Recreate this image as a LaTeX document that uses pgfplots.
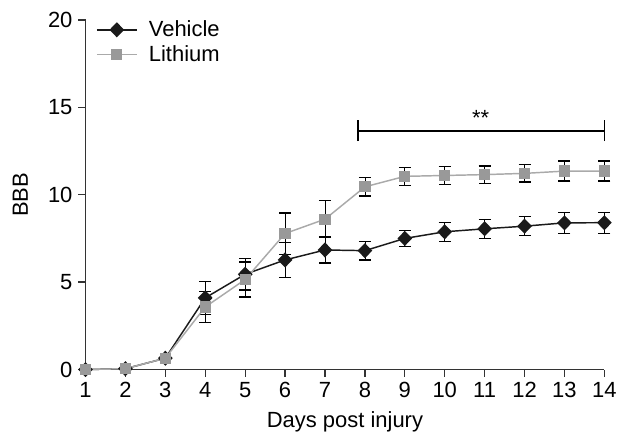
\documentclass[border=0pt]{standalone}
\usepackage{fontspec}
\setmainfont{Liberation Sans}
\usepackage{pgfplots}
\usepackage{pgfplotstable}
\pgfplotsset{compat=1.18}

\definecolor{vehcol}{HTML}{1A1A1A}
\definecolor{lithline}{HTML}{AAAAAA}
\definecolor{lithmark}{HTML}{999999}
\definecolor{axcol}{HTML}{333333}

% day, mean BBB score, SEM
\pgfplotstableread{
day mean err
1  0.00 0.00
2  0.05 0.00
3  0.65 0.00
4  4.10 0.95
5  5.45 0.90
6  6.27 1.00
7  6.84 0.75
8  6.80 0.53
9  7.50 0.45
10 7.88 0.54
11 8.05 0.55
12 8.20 0.55
13 8.39 0.60
14 8.40 0.60
}\vehicle

\pgfplotstableread{
day mean err
1  0.00 0.00
2  0.05 0.00
3  0.65 0.00
4  3.58 0.87
5  5.15 1.00
6  7.78 1.18
7  8.60 1.05
8  10.45 0.52
9  11.05 0.52
10 11.10 0.50
11 11.15 0.50
12 11.22 0.50
13 11.35 0.57
14 11.35 0.57
}\lithium

\pgfplotsset{
  errstyle/.style={black, line width=0.8pt, only marks, mark=none, forget plot,
    restrict x to domain=4:14,
    error bars/.cd, y dir=both, y explicit,
    error mark=|,
    error mark options={black, mark size=3.7pt, line width=0.8pt}},
}

\begin{document}
\begin{tikzpicture}[font=\fontsize{13.5}{16}\selectfont]
\begin{axis}[
  scale only axis, width=319pt, height=215pt,
  xmin=1, xmax=14, ymin=0, ymax=20,
  xtick={1,...,14}, ytick={0,5,10,15,20},
  axis lines=left,
  axis line style={axcol, line width=0.8pt, -},
  tick align=outside, major tick length=4.5pt,
  tick style={axcol, line width=0.8pt},
  xlabel={Days post injury}, ylabel={BBB},
  xlabel style={at={(rel axis cs:0.5,-0.1506)}, anchor=center},
  ylabel style={at={(rel axis cs:-0.1255,0.5)}, anchor=center, rotate=0},
  /pgf/number format/assume math mode=true,
  clip=false,
  legend style={at={(0.02,1.008)}, anchor=north west, draw=none, fill=none,
    inner sep=0pt, row sep=0pt, font=\fontsize{13.5}{16}\selectfont,
    /tikz/every odd column/.append style={column sep=5pt}},
  legend cell align=left,
  legend image code/.code={\draw[mark repeat=2,mark phase=2] plot coordinates {(0cm,0cm)(0.43cm,0cm)(0.86cm,0cm)};},
]
% vehicle
\addplot[errstyle] table[x=day, y=mean, y error=err]{\vehicle};
\addplot[vehcol, line width=0.9pt, mark=diamond*, mark size=4pt,
  mark options={fill=vehcol, xscale=1.3}]
  table[x=day, y=mean]{\vehicle};
\addlegendentry{Vehicle}
% lithium
\addplot[errstyle] table[x=day, y=mean, y error=err]{\lithium};
\addplot[lithline, line width=0.9pt, mark=square*, mark size=3pt,
  mark options={fill=lithmark, draw=lithmark}]
  table[x=day, y=mean]{\lithium};
\addlegendentry{Lithium}
% significance bracket
\draw[black, line width=0.8pt] (axis cs:7.83,13.65) -- (axis cs:14,13.65);
\draw[black, line width=0.8pt] (axis cs:7.83,13.07) -- (axis cs:7.83,14.3);
\draw[black, line width=0.8pt] (axis cs:14,13.07) -- (axis cs:14,14.3);
\node[anchor=base] at (axis cs:10.9,13.95) {**};
% page extent matching the reference
\path (rel axis cs:-0.1648,-0.1932) rectangle (rel axis cs:1.0268,1.0568);
\end{axis}
\end{tikzpicture}
\end{document}
